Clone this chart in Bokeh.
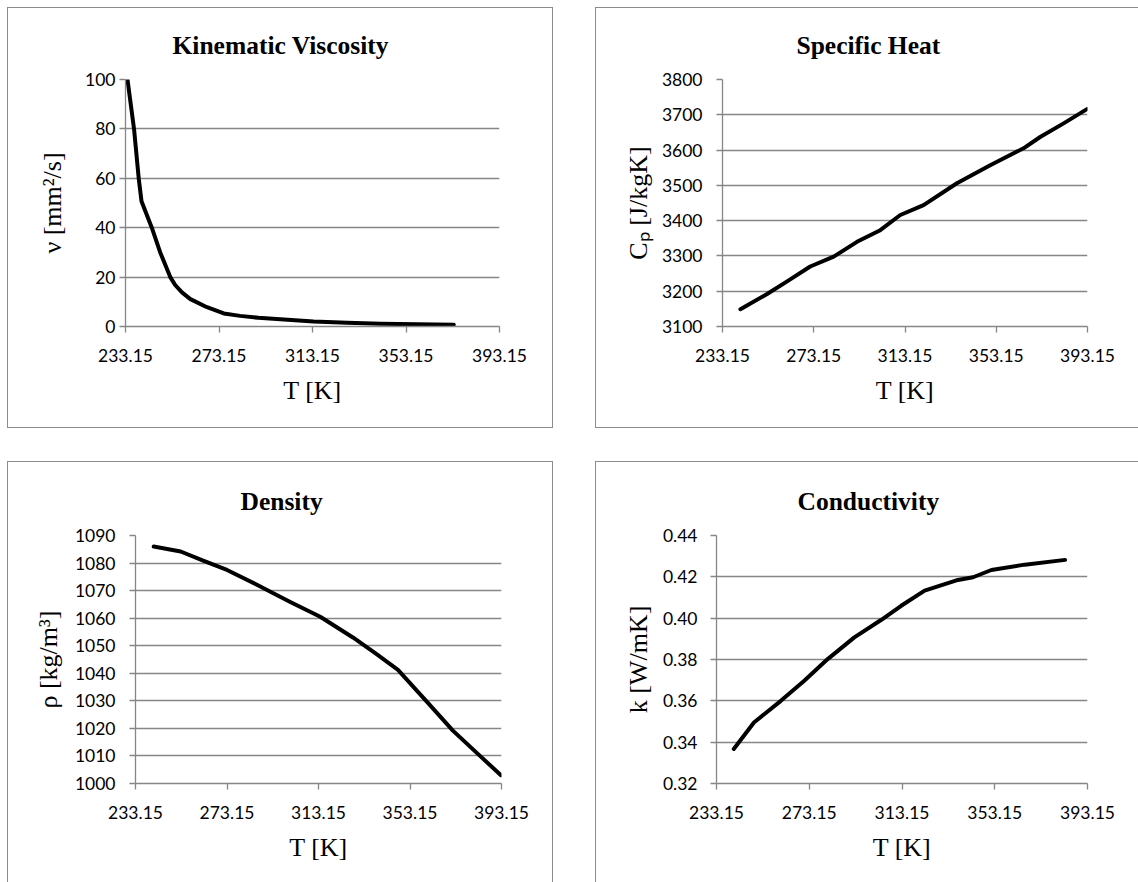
from bokeh.plotting import figure
from bokeh.layouts import column, row
from bokeh.models import Spacer, Range1d, FixedTicker, PrintfTickFormatter
from bokeh.embed import file_html
from bokeh.resources import INLINE

# ---------------- data ----------------
x_ticks = [233.15, 273.15, 313.15, 353.15, 393.15]

visc_T = [234.0, 236.8, 238.8, 240.0, 244.4, 248.0, 252.3, 254.4, 257.3,
          260.9, 268.0, 275.2, 282.2, 290.0, 299.4, 313.6, 328.0, 342.3, 358.0, 373.6]
visc_v = [100, 80, 60, 50.7, 40, 30, 20, 16.8, 13.8,
          11.1, 7.8, 5.3, 4.3, 3.5, 2.9, 2.0, 1.5, 1.1, 0.9, 0.7]
visc_ticks = [0, 20, 40, 60, 80, 100]

cp_T = [241.0, 252.7, 262.0, 271.6, 281.9, 292.1, 302.3, 311.1, 321.3, 335.9,
        350.5, 365.1, 372.4, 382.5, 392.9]
cp_v = [3149, 3192, 3230, 3270, 3298, 3340, 3373, 3416, 3444, 3506,
        3557, 3605, 3637, 3675, 3716]
cp_ticks = [3100, 3200, 3300, 3400, 3500, 3600, 3700, 3800]

rho_T = [241.1, 252.9, 263.0, 273.15, 287.7, 300.8, 313.9, 328.2, 338.4, 347.9,
         360.2, 371.9, 382.1, 392.9]
rho_v = [1086.0, 1084.2, 1080.8, 1077.5, 1071.5, 1065.9, 1060.5, 1053.0, 1047.0, 1041.2,
         1030.0, 1019.2, 1011.3, 1003.0]
rho_ticks = [1000, 1010, 1020, 1030, 1040, 1050, 1060, 1070, 1080, 1090]

k_T = [240.6, 249.3, 260.9, 271.0, 281.1, 292.6, 304.1, 312.8, 322.9, 337.3,
       343.8, 351.7, 366.1, 383.5]
k_v = [0.3367, 0.3495, 0.3600, 0.3697, 0.3802, 0.3907, 0.3991, 0.4060, 0.4133, 0.4185,
       0.4198, 0.4233, 0.4259, 0.4282]
k_ticks = [0.32, 0.34, 0.36, 0.38, 0.40, 0.42, 0.44]

GRID = "#868686"
SERIF = "Liberation Serif"
SANS = "Lato"


def make(title, ylabel, xs, ys, yticks, yfmt, w, h, left, right, top, bottom,
         title_offset, ytick_standoff, ylab_standoff):
    p = figure(width=w, height=h, output_backend="svg", toolbar_location=None,
               x_range=Range1d(233.15, 393.15),
               y_range=Range1d(yticks[0], yticks[-1]),
               min_border_left=left, min_border_right=right,
               min_border_top=top, min_border_bottom=bottom,
               title=title)
    p.styles = {"outline": "1px solid #8c8c8c"}
    p.outline_line_color = None
    p.background_fill_color = "white"
    p.border_fill_color = "white"
    p.title.text_font = SERIF
    p.title.text_font_style = "bold"
    p.title.text_font_size = "25.5px"
    p.title.align = "left"
    p.title.offset = title_offset
    p.title.standoff = 39
    p.title.text_color = "black"

    p.xgrid.visible = False
    p.ygrid.grid_line_color = GRID
    p.ygrid.grid_line_width = 1.3
    p.ygrid.ticker = FixedTicker(ticks=yticks)

    xa = p.xaxis[0]
    xa.ticker = FixedTicker(ticks=x_ticks)
    xa.formatter = PrintfTickFormatter(format="%.2f")
    xa.axis_label = "T [K]"
    ya = p.yaxis[0]
    ya.ticker = FixedTicker(ticks=yticks)
    ya.formatter = PrintfTickFormatter(format=yfmt)
    ya.axis_label = ylabel
    for ax in (xa, ya):
        ax.axis_line_color = GRID
        ax.axis_line_width = 1.3
        ax.major_tick_line_color = GRID
        ax.major_tick_line_width = 1.3
        ax.major_tick_out = 6
        ax.major_tick_in = 0
        ax.minor_tick_line_color = None
        ax.major_label_text_font = SANS
        ax.major_label_text_font_size = "17.5px"
        ax.major_label_text_color = "black"
        ax.axis_label_text_font = SERIF
        ax.axis_label_text_font_style = "normal"
        ax.axis_label_text_font_size = "26px"
        ax.axis_label_text_color = "black"
    xa.major_label_standoff = 16
    xa.axis_label_standoff = 11
    ya.major_label_standoff = ytick_standoff
    ya.axis_label_standoff = ylab_standoff
    ya.major_label_orientation = "horizontal"

    p.line(xs, ys, line_color="black", line_width=4, line_cap="round", line_join="round")
    return p


p1 = make("Kinematic Viscosity", "\u03bd [mm\u00b2/s]", visc_T, visc_v, visc_ticks, "%d",
          544, 419, 117, 53, 71, 99, 47, 4, 15)
p2 = make("Specific Heat", "C\u209a [J/kgK]", cp_T, cp_v, cp_ticks, "%d",
          542, 419, 126, 51, 71, 101, 74, 14, 6)
p3 = make("Density", "\u03c1 [kg/m\u00b3]", rho_T, rho_v, rho_ticks, "%d",
          544, 420, 127, 51, 73, 99, 105, 14, 9)
p4 = make("Conductivity", "k [W/mK]", k_T, k_v, k_ticks, "%.2f",
          542, 420, 120, 51, 73, 99, 81, 13, 7)

layout = column(
    Spacer(height=8),
    row(Spacer(width=8), p1, Spacer(width=44), p2),
    Spacer(height=35),
    row(Spacer(width=8), p3, Spacer(width=44), p4),
)

open("out.html", "w").write(file_html(layout, INLINE))
